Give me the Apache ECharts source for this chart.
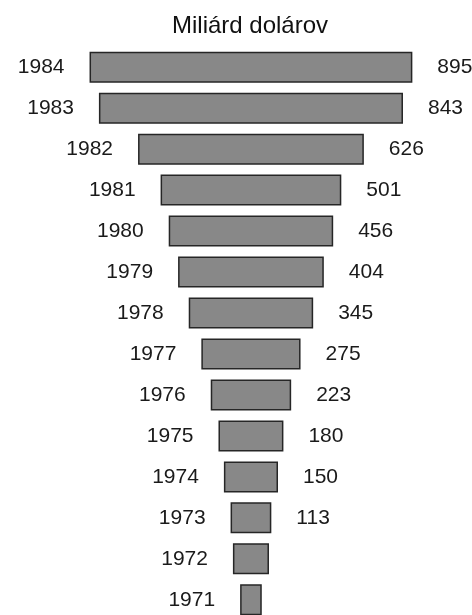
<!DOCTYPE html>
<html>
<head>
<meta charset="utf-8">
<script src="https://cdn.jsdelivr.net/npm/echarts@6/dist/echarts.min.js"></script>
<style>
html,body{margin:0;padding:0;background:#fff;}
#chart{width:472px;height:615px;}
</style>
</head>
<body>
<div id="chart"></div>
<script>
var years = ['1984','1983','1982','1981','1980','1979','1978','1977','1976','1975','1974','1973','1972','1971'];
var values = [895, 843, 626, 501, 456, 404, 345, 275, 223, 180, 150, 113, 100, 60];
var valueLabels = ['895','843','626','501','456','404','345','275','223','180','150','113','',''];
var titleText = 'Miliárd dolárov';

var axisMax = 1000;
var pad = values.map(function (v) { return (axisMax - v) / 2; });

var chart = echarts.init(document.getElementById('chart'));
var font = '"Liberation Sans", Arial, Helvetica, sans-serif';
chart.setOption({
  animation: false,
  backgroundColor: '#ffffff',
  title: {
    text: titleText,
    left: 167,
    top: 9,
    textStyle: { fontFamily: font, fontSize: 24, fontWeight: 'normal', color: '#111' }
  },
  grid: { left: 70.6, width: 360.7, top: 67.2, height: 532.6, containLabel: false },
  xAxis: {
    type: 'value', min: 0, max: axisMax, show: false
  },
  yAxis: {
    type: 'category', data: years, inverse: true, show: false, boundaryGap: false
  },
  series: [
    {
      type: 'bar', stack: 'a', data: pad, barWidth: 31,
      itemStyle: { color: 'rgba(0,0,0,0)' },
      silent: true
    },
    {
      type: 'bar', stack: 'a', data: values, barWidth: 31,
      itemStyle: { color: '#888888', borderColor: '#262626', borderWidth: 1.5 },
      label: {
        show: true, position: 'left', distance: 25,
        formatter: function (p) { return years[p.dataIndex]; },
        fontFamily: font, fontSize: 21, color: '#1a1a1a'
      }
    },
    {
      type: 'bar', stack: 'a', data: pad, barWidth: 31,
      itemStyle: { color: 'rgba(0,0,0,0)' },
      silent: true,
      label: {
        show: true, position: 'insideLeft', distance: 25,
        formatter: function (p) { return valueLabels[p.dataIndex]; },
        fontFamily: font, fontSize: 21, color: '#1a1a1a'
      }
    }
  ]
});
</script>
</body>
</html>
